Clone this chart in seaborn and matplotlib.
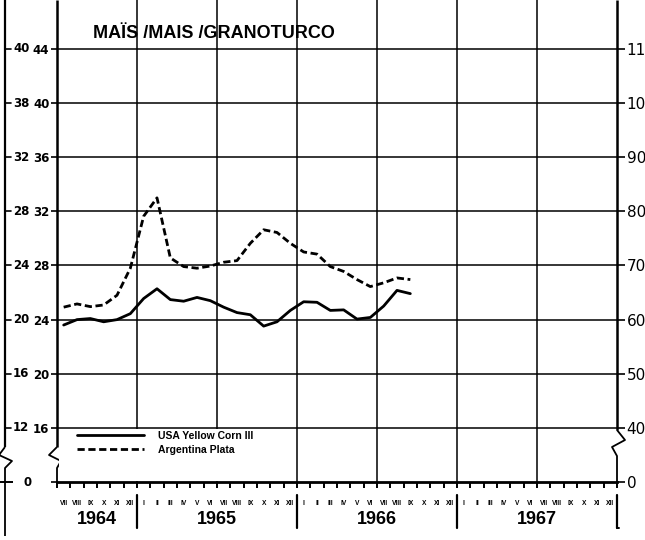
import numpy as np
import pandas as pd
import matplotlib
matplotlib.use("Agg")
import matplotlib.pyplot as plt
from matplotlib.lines import Line2D
from matplotlib.patches import Rectangle
import seaborn as sns

# ---------------- data ----------------
roman = ["I", "II", "III", "IV", "V", "VI", "VII", "VIII", "IX", "X", "XI", "XII"]
years = ["1964", "1965", "1966", "1967"]
year_centers = [3, 12, 24, 36]          # month index (from VII 1964) of year label centre
year_bounds = [6, 18, 30, 42]           # month index of year boundaries
half_year_grid = [6, 12, 18, 24, 30, 36]
n_months = 42                           # VII 1964 .. XII 1967
first_month = 6                          # index in roman list (VII)

series_names = ["USA Yellow Corn III", "Argentina Plata"]
# monthly values, VII 1964 .. IX 1966 (right-hand scale)
usa = [59.0, 60.0, 60.2, 59.6, 60.0, 61.1, 63.9, 65.7, 63.7, 63.4, 64.1, 63.5,
       62.3, 61.3, 60.9, 58.8, 59.6, 61.7, 63.3, 63.2, 61.7, 61.8, 60.1, 60.4,
       62.5, 65.4, 64.8]
arg = [62.3, 62.9, 62.4, 62.7, 64.5, 69.5, 79.1, 82.5, 71.4, 69.8, 69.5, 69.9,
       70.6, 70.9, 74.1, 76.6, 76.1, 74.1, 72.5, 72.1, 69.8, 68.9, 67.4, 66.1,
       66.8, 67.7, 67.4]

right_levels = [0, 40, 50, 60, 70, 80, 90, 100, 110]
right_labels = ["0", "40", "50", "60", "70", "80", "90", "100", "110"]
grid_levels = [40, 50, 60, 70, 80, 90, 100, 110]
inner_labels = ["16", "20", "24", "28", "32", "36", "40", "44"]
outer_labels = ["12", "16", "20", "24", "28", "32", "38", "40"]

title = "MAÏS /MAIS /GRANOTURCO"

# ---------------- table ----------------
month_pos = np.arange(len(usa)) + 0.5
df = pd.DataFrame({
    "month": np.concatenate([month_pos, month_pos]),
    "value": np.concatenate([usa, arg]),
    "series": [series_names[0]] * len(usa) + [series_names[1]] * len(arg),
})

# ---------------- style ----------------
sns.set_theme(style="white")
COND = ["Liberation Sans", "DejaVu Sans"]
plt.rcParams["font.family"] = ["DejaVu Sans"]
plt.rcParams["text.color"] = "black"
plt.rcParams["axes.labelcolor"] = "black"
plt.rcParams["xtick.color"] = "black"
plt.rcParams["ytick.color"] = "black"

W, H = 645, 540
AX_L, AX_R, AX_B = 57, 617, 482
fig = plt.figure(figsize=(W / 100, H / 100), dpi=100)
fig.patch.set_facecolor("white")
ax = fig.add_axes([AX_L / W, (H - AX_B) / H, (AX_R - AX_L) / W, AX_B / H])
ax.set_facecolor("white")


def fwd(v):
    v = np.asarray(v, dtype=float)
    return np.where(v >= 40, v, 30 + v / 4.0)


def inv(u):
    u = np.asarray(u, dtype=float)
    return np.where(u >= 40, u, (u - 30) * 4.0)


YTOP = 119.05
ax.set_yscale("function", functions=(fwd, inv))


def axx(px):
    return (px - AX_L) / (AX_R - AX_L)


def axy(py):
    return (AX_B - py) / AX_B


DASH = (2.6, 1.3)
sns.lineplot(data=df, x="month", y="value", style="series",
             dashes={series_names[0]: "", series_names[1]: DASH},
             color="black", linewidth=2.0, ax=ax, legend=False, zorder=4,
             estimator=None, sort=False)

ax.set_xlim(0, n_months)
ax.set_ylim(0, YTOP)
ax.set_xlabel("")
ax.set_ylabel("")

# grid
ax.hlines(grid_levels, 0, n_months, color="black", lw=1.1, zorder=1)
ax.vlines(half_year_grid, 0, YTOP, color="black", lw=1.1, zorder=1)

# spines
for s in ["top", "left", "right"]:
    ax.spines[s].set_visible(False)
ax.spines["bottom"].set_linewidth(2.0)
ax.spines["bottom"].set_color("black")

# x ticks: month boundaries (minor) and month names (major)
ax.set_xticks(np.arange(0, n_months + 1), minor=True)
ax.set_xticks(np.arange(n_months) + 0.5)
ax.set_xticklabels([roman[(first_month + m) % 12] for m in range(n_months)],
                   fontsize=4.8, fontweight="bold", family=COND, color="black")
ax.tick_params(axis="x", which="minor", length=4, width=1.4, direction="out",
               color="black", bottom=True)
ax.tick_params(axis="x", which="major", length=0, pad=13)

# left inner ticks
ax.set_yticks([0] + grid_levels)
ax.set_yticklabels([""] + inner_labels, fontsize=8.5, fontweight="bold",
                   color="black")
ax.yaxis.set_minor_locator(matplotlib.ticker.NullLocator())
ax.tick_params(axis="y", which="major", left=True, length=4, width=1.2,
               pad=1.5, color="black")

# right axis
ax2 = ax.twinx()
ax2.set_yscale("function", functions=(fwd, inv))
ax2.set_ylim(0, YTOP)
ax2.set_yticks(right_levels)
ax2.set_yticklabels(right_labels, fontsize=11, color="black")
ax2.yaxis.set_minor_locator(matplotlib.ticker.NullLocator())
ax2.tick_params(axis="y", right=True, length=6, width=1.2, pad=1, color="black")
for s in ax2.spines.values():
    s.set_visible(False)
ax2.grid(False)

T = ax.transAxes
lk = dict(color="black", transform=T, clip_on=False, solid_capstyle="butt")

# inner left axis with break
ax.plot([0, 0], [1.0, axy(447)], lw=1.8, **lk)
ax.plot([axx(57), axx(49), axx(61), axx(57), axx(57)],
        [axy(447), axy(455), axy(461), axy(468), axy(482)], lw=1.3, **lk)
# right axis with break
ax.plot([1, 1], [1.0, axy(430)], lw=1.8, **lk)
ax.plot([axx(617), axx(625), axx(612), axx(617), axx(617)],
        [axy(430), axy(440), axy(447), axy(456), axy(482)], lw=1.3, **lk)
# outer left axis with break
ax.plot([axx(5), axx(5)], [1.0, axy(447)], lw=1.6, **lk)
ax.plot([axx(5), axx(-1), axx(12), axx(5), axx(5)],
        [axy(447), axy(455), axy(461), axy(468), axy(536)], lw=1.3, **lk)
ax.plot([axx(-1), axx(13)], [0, 0], lw=1.4, **lk)

# outer left labels and ticks
ytr = ax.get_yaxis_transform()
for lev, lab in zip(grid_levels, outer_labels):
    ax.plot([axx(5), axx(11)], [lev, lev], color="black", lw=1.2,
            transform=ytr, clip_on=False)
    ax.text(axx(13), lev, lab, transform=ytr, ha="left", va="center",
            fontsize=8.5, fontweight="bold", color="black")
ax.text(axx(13), 120, "44", transform=ytr, ha="left", va="center",
        fontsize=8.5, fontweight="bold", clip_on=False, color="black")
ax.text(axx(52), 120, "48", transform=ytr, ha="right", va="center",
        fontsize=8.5, fontweight="bold", clip_on=False, color="black")
ax.text(axx(28), 0, "0", transform=ytr, ha="center", va="center",
        fontsize=8.5, fontweight="bold", color="black")

# year labels and separators
xtr = ax.get_xaxis_transform()
for yc, lab in zip(year_centers, years):
    ax.text(yc, axy(519), lab, transform=xtr, ha="center", va="center",
            fontsize=13, fontweight="bold", family=COND, color="black")
for yb in year_bounds:
    ax.plot([yb, yb], [axy(495), axy(528)], color="black", lw=1.6,
            transform=xtr, clip_on=False)
ax.plot([n_months, n_months + 0.15], [axy(528), axy(528)], color="black",
        lw=1.4, transform=xtr, clip_on=False)

# legend
ax.add_patch(Rectangle((axx(59), 0.002), axx(286) - axx(59), axy(429) - 0.002,
                       transform=T, facecolor="white", edgecolor="none",
                       zorder=2))
handles = [Line2D([], [], color="black", lw=2.0),
           Line2D([], [], color="black", lw=2.0, dashes=DASH)]
leg = ax.legend(handles, series_names, loc="upper left",
                bbox_to_anchor=(axx(75), axy(429)), frameon=False,
                prop={"family": COND, "weight": "bold", "size": 7.5},
                handlelength=6.4, handletextpad=1.4,
                labelspacing=0.35, borderaxespad=0, borderpad=0.2)
for t in leg.get_texts():
    t.set_color("black")
leg.set_zorder(6)

# title
fig.text(93 / W, 1 - 33 / H, title, ha="left", va="center", fontsize=13,
         fontweight="bold", family=COND, color="black")

fig.savefig("out.png", dpi=100, facecolor="white")
